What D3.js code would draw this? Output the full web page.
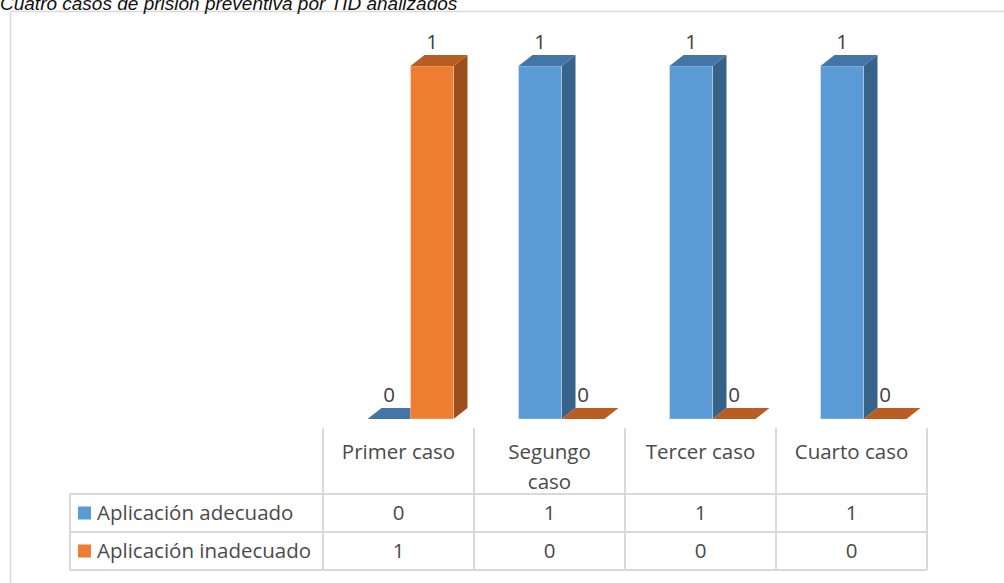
<!DOCTYPE html>
<html>
<head>
<meta charset="utf-8">
<script src="https://cdn.jsdelivr.net/npm/d3@7"></script>
<style>
  html, body { margin: 0; padding: 0; background: #fff; }
  svg { display: block; }
</style>
</head>
<body>
<script>
const TITLE = "Cuatro casos de prisión preventiva por TID analizados";
const categories = ["Primer caso", "Segungo caso", "Tercer caso", "Cuarto caso"];
const seriesNames = ["Aplicación adecuado", "Aplicación inadecuado"];
const adecuado = [0, 1, 1, 1];
const inadecuado = [1, 0, 0, 0];

const W = 1004, H = 583;
const FONT = "'Open Sans', 'Noto Sans', sans-serif";
const FS = 20.5;
const TEXT = "#4a4a4a";
const GRID = "#d9d9d9";

// front, top, side colours for each series
const palette = [
  { front: "#5b9bd5", top: "#4375a6", side: "#386389" },
  { front: "#ed7d31", top: "#b85e22", side: "#9c4f1c" }
];

const series = [adecuado, inadecuado];

const svg = d3.select("body").append("svg")
  .attr("width", W)
  .attr("height", H);

// chart area border (runs off the right and bottom of the picture)
svg.append("rect")
  .attr("x", 10.5).attr("y", 11.5)
  .attr("width", W).attr("height", H)
  .attr("fill", "none")
  .attr("stroke", GRID)
  .attr("stroke-width", 1.5);

svg.append("text")
  .attr("x", 0).attr("y", 10)
  .attr("font-family", "'Liberation Sans', Arial, sans-serif")
  .attr("font-style", "italic")
  .attr("font-size", 19)
  .attr("fill", "#111")
  .text(TITLE);

// table / plot geometry
const tableLeft = 70, colLeft = 323, colRight = 927;
const headTop = 428, row1 = 494, row2 = 532, tableBottom = 570;

const x = d3.scaleBand().domain(categories).range([colLeft, colRight]);
const y = d3.scaleLinear().domain([0, 1]).range([419, 66]);

const barW = 43, dx = 14, dy = 11, shift = 12;

const bars = [];
categories.forEach((c, i) => {
  series.forEach((vals, s) => {
    const x0 = x(c) + x.bandwidth() / 2 + shift - barW + s * barW;
    bars.push({ c, s, v: vals[i], x0 });
  });
});

const g = svg.append("g");

bars.forEach(b => {
  const col = palette[b.s];
  const y0 = y(0), yt = y(b.v);
  const x0 = b.x0, x1 = b.x0 + barW;
  if (b.v > 0) {
    g.append("path")
      .attr("d", `M${x1},${yt}L${x1 + dx},${yt - dy}L${x1 + dx},${y0 - dy}L${x1},${y0}Z`)
      .attr("fill", col.side);
    g.append("rect")
      .attr("x", x0).attr("y", yt)
      .attr("width", barW).attr("height", y0 - yt)
      .attr("fill", col.front)
      .attr("stroke", "rgba(255,255,255,0.35)")
      .attr("stroke-width", 1);
  }
  g.append("path")
    .attr("d", `M${x0},${yt}L${x0 + dx},${yt - dy}L${x1 + dx},${yt - dy}L${x1},${yt}Z`)
    .attr("fill", col.top);
});

// value labels
g.selectAll("text.val")
  .data(bars)
  .join("text")
  .attr("class", "val")
  .attr("x", d => d.x0 + barW / 2)
  .attr("y", d => y(d.v) - 17)
  .attr("text-anchor", "middle")
  .attr("font-family", FONT)
  .attr("font-size", FS)
  .attr("fill", "#404040")
  .text(d => d.v);

// data table
const t = svg.append("g")
  .attr("stroke", GRID)
  .attr("stroke-width", 2)
  .attr("fill", "none");

const edges = [colLeft, ...categories.map(c => x(c) + x.bandwidth())];
edges.forEach(xx => {
  t.append("line").attr("x1", xx).attr("x2", xx).attr("y1", headTop).attr("y2", tableBottom);
});
t.append("line").attr("x1", tableLeft).attr("x2", tableLeft).attr("y1", row1).attr("y2", tableBottom);
[row1, row2, tableBottom].forEach(yy => {
  t.append("line").attr("x1", tableLeft).attr("x2", colRight).attr("y1", yy).attr("y2", yy);
});

// column headers, wrapped when wider than the cell
const heads = svg.append("g")
  .attr("font-family", FONT)
  .attr("font-size", FS)
  .attr("fill", TEXT)
  .attr("text-anchor", "middle");

categories.forEach(c => {
  const txt = heads.append("text")
    .attr("x", x(c) + x.bandwidth() / 2)
    .attr("y", 459);
  txt.text(c);
  if (txt.node().getComputedTextLength() > 125) {
    const words = c.split(" ");
    txt.text(null);
    words.forEach((w, k) => {
      txt.append("tspan")
        .attr("x", x(c) + x.bandwidth() / 2)
        .attr("dy", k === 0 ? 0 : 30)
        .text(w);
    });
  }
});

// rows: legend key + name + values
const rowTops = [row1, row2];
series.forEach((vals, s) => {
  const cy = rowTops[s] + 19;
  svg.append("rect")
    .attr("x", 78).attr("y", cy - 6.5)
    .attr("width", 13).attr("height", 13)
    .attr("fill", palette[s].front);
  svg.append("text")
    .attr("x", 97).attr("y", cy + 7)
    .attr("font-family", FONT)
    .attr("font-size", FS)
    .attr("fill", TEXT)
    .text(seriesNames[s]);
  svg.append("g").selectAll("text")
    .data(vals)
    .join("text")
    .attr("x", (d, i) => x(categories[i]) + x.bandwidth() / 2)
    .attr("y", cy + 7)
    .attr("text-anchor", "middle")
    .attr("font-family", FONT)
    .attr("font-size", FS)
    .attr("fill", TEXT)
    .text(d => d);
});
</script>
</body>
</html>
